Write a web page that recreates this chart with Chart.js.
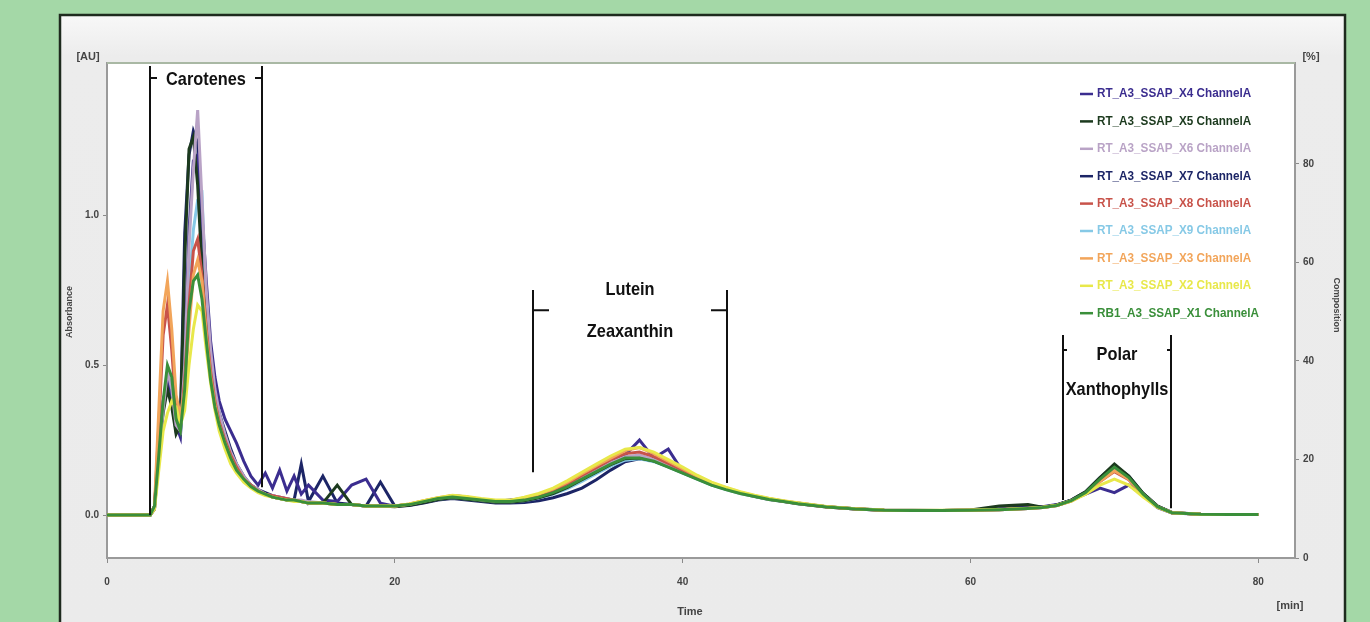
<!DOCTYPE html>
<html><head><meta charset="utf-8">
<script src="https://cdn.jsdelivr.net/npm/chart.js@4.4.1/dist/chart.umd.min.js"></script>
<style>html,body{margin:0;padding:0;background:#a4d8a7;overflow:hidden}#wrap{position:relative;width:1370px;height:622px}</style>
</head><body><div id="wrap"><canvas id="c" width="1370" height="622"></canvas></div>
<script>
// ---- data (time in minutes, absorbance in AU) ----
const times = [0,2,3.0,3.3,3.6,3.9,4.2,4.5,4.8,5.1,5.4,5.7,6.0,6.3,6.6,6.9,7.2,7.5,7.8,8.2,8.6,9.0,9.5,10,10.5,11,11.5,12,12.5,13,13.5,14,
  15,16,17,18,19,20,21,22,23,24,25,26,27,28,29,30,31,32,33,34,35,36,37,38,39,40,41,42,43,44,45,46,47,48,
  50,52,54,56,58,60,62,64,65,66,67,68,69,70,71,72,73,74,76,78,80];

const seriesLabels = [
  "RT_A3_SSAP_X4 ChannelA","RT_A3_SSAP_X5 ChannelA","RT_A3_SSAP_X6 ChannelA",
  "RT_A3_SSAP_X7 ChannelA","RT_A3_SSAP_X8 ChannelA","RT_A3_SSAP_X9 ChannelA",
  "RT_A3_SSAP_X3 ChannelA","RT_A3_SSAP_X2 ChannelA","RB1_A3_SSAP_X1 ChannelA"];

const s1 = [0,0,0,0.03,0.22,0.38,0.45,0.4,0.3,0.26,0.55,0.95,1.18,1.2,1.0,0.78,0.58,0.46,0.38,0.32,0.28,0.24,0.18,0.13,0.1,0.14,0.09,0.15,0.08,0.13,0.07,0.1,
  0.05,0.045,0.1,0.12,0.04,0.03,0.035,0.045,0.055,0.065,0.06,0.05,0.045,0.05,0.055,0.065,0.08,0.1,0.125,0.15,0.175,0.2,0.25,0.19,0.22,0.145,0.125,0.105,0.09,0.075,
  0.064,0.055,0.046,0.04,0.028,0.021,0.017,0.016,0.015,0.017,0.02,0.025,0.028,0.035,0.05,0.07,0.09,0.075,0.1,0.065,0.025,0.007,0.003,0.002,0.002];
const s2 = [0,0,0,0.02,0.2,0.34,0.42,0.36,0.27,0.3,0.85,1.22,1.26,1.1,0.82,0.62,0.5,0.4,0.33,0.26,0.2,0.16,0.12,0.1,0.08,0.07,0.06,0.055,0.05,0.05,0.045,0.04,
  0.04,0.1,0.035,0.03,0.03,0.028,0.033,0.042,0.052,0.058,0.053,0.048,0.043,0.043,0.048,0.058,0.072,0.092,0.118,0.143,0.168,0.188,0.19,0.18,0.162,0.142,0.122,0.102,0.087,0.074,
  0.063,0.053,0.046,0.039,0.028,0.021,0.016,0.015,0.015,0.017,0.03,0.035,0.026,0.034,0.05,0.078,0.125,0.17,0.13,0.072,0.03,0.008,0.003,0.002,0.002];
const s3 = [0,0,0,0.02,0.18,0.35,0.48,0.42,0.3,0.28,0.5,0.9,1.15,1.35,1.05,0.75,0.55,0.42,0.34,0.27,0.21,0.17,0.13,0.1,0.085,0.07,0.065,0.06,0.055,0.05,0.05,0.045,
  0.04,0.035,0.035,0.03,0.03,0.03,0.036,0.046,0.056,0.062,0.057,0.05,0.046,0.046,0.052,0.062,0.078,0.1,0.125,0.15,0.175,0.195,0.2,0.185,0.165,0.145,0.123,0.103,0.087,0.073,
  0.062,0.052,0.045,0.038,0.027,0.02,0.016,0.015,0.015,0.016,0.018,0.022,0.025,0.032,0.048,0.072,0.115,0.15,0.12,0.068,0.027,0.008,0.003,0.002,0.002];
const s4 = [0,0,0,0.03,0.24,0.36,0.44,0.38,0.28,0.32,0.94,1.2,1.28,1.24,0.95,0.66,0.5,0.4,0.34,0.28,0.22,0.17,0.13,0.1,0.085,0.075,0.065,0.06,0.055,0.05,0.17,0.045,
  0.13,0.04,0.035,0.03,0.11,0.03,0.032,0.04,0.05,0.055,0.05,0.045,0.04,0.04,0.042,0.048,0.058,0.072,0.09,0.118,0.15,0.178,0.188,0.182,0.165,0.145,0.124,0.104,0.088,0.074,
  0.063,0.053,0.046,0.039,0.028,0.02,0.016,0.015,0.015,0.016,0.02,0.03,0.026,0.033,0.05,0.078,0.125,0.165,0.13,0.072,0.03,0.009,0.003,0.002,0.002];
const s5 = [0,0,0,0.02,0.3,0.6,0.7,0.55,0.35,0.3,0.45,0.7,0.88,0.92,0.8,0.62,0.48,0.38,0.31,0.25,0.2,0.16,0.12,0.1,0.08,0.07,0.065,0.06,0.055,0.05,0.045,0.04,
  0.04,0.035,0.035,0.03,0.03,0.03,0.036,0.047,0.057,0.063,0.058,0.052,0.047,0.047,0.055,0.066,0.082,0.105,0.132,0.158,0.185,0.205,0.21,0.195,0.172,0.15,0.127,0.106,0.09,0.075,
  0.064,0.054,0.046,0.039,0.027,0.02,0.016,0.015,0.015,0.016,0.018,0.022,0.025,0.032,0.047,0.072,0.112,0.145,0.118,0.067,0.027,0.008,0.003,0.002,0.002];
const s6 = [0,0,0,0.02,0.2,0.35,0.45,0.4,0.3,0.27,0.45,0.75,0.95,1.05,1.07,0.7,0.52,0.4,0.33,0.26,0.2,0.16,0.12,0.1,0.08,0.07,0.06,0.055,0.05,0.05,0.045,0.04,
  0.04,0.035,0.035,0.03,0.03,0.03,0.035,0.044,0.053,0.058,0.054,0.049,0.044,0.044,0.048,0.057,0.07,0.088,0.112,0.138,0.163,0.183,0.188,0.178,0.16,0.14,0.12,0.1,0.085,0.072,
  0.062,0.052,0.045,0.038,0.027,0.02,0.016,0.015,0.015,0.016,0.018,0.022,0.025,0.032,0.048,0.075,0.12,0.158,0.123,0.069,0.027,0.008,0.003,0.002,0.002];
const s7 = [0,0,0,0.03,0.35,0.68,0.78,0.62,0.4,0.33,0.42,0.62,0.8,0.85,0.78,0.6,0.46,0.37,0.3,0.24,0.19,0.15,0.12,0.095,0.08,0.07,0.06,0.055,0.05,0.05,0.045,0.04,
  0.04,0.035,0.035,0.03,0.03,0.03,0.037,0.048,0.058,0.065,0.06,0.053,0.048,0.048,0.058,0.07,0.087,0.11,0.138,0.165,0.19,0.215,0.225,0.205,0.18,0.155,0.13,0.108,0.091,0.076,
  0.065,0.055,0.047,0.04,0.028,0.021,0.016,0.015,0.015,0.016,0.018,0.022,0.025,0.032,0.047,0.072,0.112,0.148,0.12,0.068,0.027,0.008,0.003,0.002,0.002];
const s8 = [0,0,0,0.02,0.15,0.28,0.34,0.38,0.36,0.3,0.35,0.5,0.62,0.7,0.68,0.55,0.44,0.35,0.28,0.22,0.17,0.14,0.11,0.09,0.075,0.065,0.06,0.055,0.05,0.045,0.045,0.04,
  0.04,0.035,0.035,0.03,0.03,0.03,0.037,0.048,0.058,0.066,0.062,0.055,0.05,0.05,0.06,0.072,0.09,0.115,0.143,0.17,0.197,0.22,0.225,0.21,0.185,0.16,0.133,0.11,0.093,0.078,
  0.066,0.056,0.048,0.041,0.029,0.021,0.017,0.016,0.016,0.017,0.019,0.023,0.026,0.033,0.047,0.07,0.1,0.12,0.1,0.06,0.026,0.008,0.003,0.002,0.002];
const s9 = [0,0,0,0.03,0.2,0.38,0.5,0.46,0.32,0.28,0.42,0.68,0.78,0.8,0.72,0.58,0.45,0.36,0.3,0.24,0.19,0.15,0.12,0.095,0.08,0.07,0.06,0.055,0.05,0.05,0.045,0.04,
  0.04,0.035,0.035,0.03,0.03,0.03,0.035,0.045,0.055,0.06,0.055,0.05,0.045,0.045,0.05,0.06,0.075,0.095,0.12,0.145,0.17,0.19,0.19,0.18,0.16,0.14,0.12,0.1,0.085,0.072,
  0.062,0.052,0.045,0.038,0.027,0.02,0.016,0.015,0.015,0.016,0.018,0.022,0.025,0.032,0.048,0.075,0.12,0.16,0.125,0.07,0.028,0.008,0.003,0.002,0.002];

const seriesValues = [s1,s2,s3,s4,s5,s6,s7,s8,s9];
const xTickValues = [0,20,40,60,80];
const leftTickValues = [0,0.5,1.0];
const rightTickValues = [0,20,40,60,80];

// ---- styles ----
const seriesColors = ['#3b2d8f','#1c3a1e','#b9a3c6','#1c2566','#c8534a','#86c9e6','#f2a55a','#e8e84a','#3a8f3a'];
// drawing order (lower = drawn on top)
const drawOrder = [6,5,4,8,3,7,2,1,0];

// region annotations (data coordinates: minutes / AU)
const regionNotes = [
  {text:['Carotenes'], t0:3.0, t1:10.8, top:1.497, bot0:0, bot1:0.093, tickY:1.457, tickLen:7, textY:[1.45]},
  {text:['Lutein','Zeaxanthin'], t0:29.6, t1:43.1, top:0.75, bot0:0.143, bot1:0.107, tickY:0.683, tickLen:16, textY:[0.75,0.61]},
  {text:['Polar','Xanthophylls'], t0:66.4, t1:73.9, top:0.6, bot0:0.05, bot1:0.023, tickY:0.55, tickLen:4, textY:[0.533,0.417]}
];

const SANS = '"Liberation Sans", Arial, sans-serif';

const bgPlugin = {
  id:'bg',
  beforeDraw(chart){
    const ctx = chart.ctx, a = chart.chartArea;
    ctx.save();
    ctx.fillStyle = '#a4d8a7';
    ctx.fillRect(0,0,1370,622);
    const g = ctx.createLinearGradient(0,14,0,622);
    g.addColorStop(0,'#f8f8f8'); g.addColorStop(0.07,'#ececec'); g.addColorStop(1,'#ebebeb');
    ctx.fillStyle = g;
    ctx.fillRect(60,15,1285,620);
    ctx.strokeStyle = '#1e2a1e'; ctx.lineWidth = 2.5;
    ctx.strokeRect(60,15,1285,640);
    ctx.fillStyle = '#ffffff';
    ctx.fillRect(a.left,a.top,a.right-a.left,a.bottom-a.top);
    ctx.restore();
  },
  afterDraw(chart){
    const ctx = chart.ctx, a = chart.chartArea;
    const xs = chart.scales.x, ys = chart.scales.y;
    ctx.save();
    ctx.strokeStyle = '#a9b8a4'; ctx.lineWidth = 2;
    ctx.beginPath(); ctx.moveTo(a.left, a.top); ctx.lineTo(a.right, a.top); ctx.stroke();
    // region brackets
    ctx.strokeStyle = '#111'; ctx.fillStyle = '#111'; ctx.lineWidth = 2;
    regionNotes.forEach(r => {
      const x0 = Math.round(xs.getPixelForValue(r.t0)), x1 = Math.round(xs.getPixelForValue(r.t1));
      const yt = ys.getPixelForValue(r.top), ty = ys.getPixelForValue(r.tickY);
      ctx.beginPath();
      ctx.moveTo(x0, yt); ctx.lineTo(x0, ys.getPixelForValue(r.bot0));
      ctx.moveTo(x1, yt); ctx.lineTo(x1, ys.getPixelForValue(r.bot1));
      ctx.moveTo(x0, ty); ctx.lineTo(x0 + r.tickLen, ty);
      ctx.moveTo(x1, ty); ctx.lineTo(x1 - r.tickLen, ty);
      ctx.stroke();
      ctx.font = 'bold 19px ' + SANS;
      ctx.textAlign = 'center'; ctx.textBaseline = 'middle';
      r.text.forEach((t,i) => {
        ctx.save();
        ctx.translate((x0+x1)/2, ys.getPixelForValue(r.textY[i]));
        ctx.scale(0.86, 1);
        ctx.fillText(t, 0, 0);
        ctx.restore();
      });
    });
    // legend
    ctx.font = 'bold 12px ' + SANS;
    let maxW = 0;
    seriesLabels.forEach(l => maxW = Math.max(maxW, ctx.measureText(l).width));
    const sx = 162 / maxW;
    ctx.textAlign = 'left'; ctx.textBaseline = 'middle';
    seriesLabels.forEach((l,i) => {
      const y = 94 + i*27.4;
      ctx.strokeStyle = seriesColors[i]; ctx.lineWidth = 2.5;
      ctx.beginPath(); ctx.moveTo(1080, y); ctx.lineTo(1093, y); ctx.stroke();
      ctx.fillStyle = seriesColors[i];
      ctx.save(); ctx.translate(1097, y); ctx.scale(sx, 1); ctx.fillText(l, 0, 0); ctx.restore();
    });
    // unit labels and axis titles
    ctx.fillStyle = '#444';
    ctx.font = 'bold 11px ' + SANS;
    ctx.textAlign = 'center';
    ctx.fillText('[AU]', 88, 57);
    ctx.fillText('[%]', 1311, 57);
    ctx.fillText('[min]', 1290, 606);
    ctx.fillText('Time', 690, 612);
    ctx.font = 'bold 9px ' + SANS;
    ctx.save(); ctx.translate(70, 312); ctx.rotate(-Math.PI/2); ctx.fillText('Absorbance', 0, 0); ctx.restore();
    ctx.save(); ctx.translate(1336, 305); ctx.rotate(Math.PI/2); ctx.fillText('Composition', 0, 0); ctx.restore();
    ctx.restore();
  }
};

const datasets = seriesValues.map((vals,i) => ({
  label: seriesLabels[i],
  data: vals.map((v,k) => ({x: times[k], y: v})),
  borderColor: seriesColors[i],
  backgroundColor: seriesColors[i],
  borderWidth: 3,
  pointRadius: 0,
  tension: 0,
  fill: false,
  order: drawOrder[i],
  yAxisID: 'y'
}));

const tickFont = {family: SANS, size: 10, weight: 'bold'};

new Chart(document.getElementById('c'), {
  type: 'line',
  data: {datasets},
  options: {
    responsive: false, animation: false, devicePixelRatio: 1,
    layout: {padding: {left: 60, right: 0, top: 63, bottom: 0}},
    plugins: {legend: {display: false}, tooltip: {enabled: false}},
    scales: {
      x: {
        type: 'linear', min: 0, max: 82.55, position: 'bottom',
        grid: {display: true, drawOnChartArea: false, drawTicks: true, tickLength: 5, color: '#8a8a8a'},
        border: {display: true, color: '#9a9a9a', width: 2},
        ticks: {font: tickFont, color: '#444', padding: 13, maxRotation: 0, callback: v => String(v)},
        afterBuildTicks: s => { s.ticks = xTickValues.map(v => ({value: v})); },
        afterFit: s => { s.height = 64; }
      },
      y: {
        type: 'linear', min: -0.143, max: 1.507, position: 'left',
        grid: {display: true, drawOnChartArea: false, drawTicks: true, tickLength: 4, color: '#8a8a8a'},
        border: {display: true, color: '#9a9a9a', width: 2},
        ticks: {font: tickFont, color: '#444', padding: 4, callback: v => Number(v).toFixed(1)},
        afterBuildTicks: s => { s.ticks = leftTickValues.map(v => ({value: v})); },
        afterFit: s => { s.width = 47; }
      },
      y2: {
        type: 'linear', min: 0, max: 100.5, position: 'right',
        grid: {display: true, drawOnChartArea: false, drawTicks: true, tickLength: 4, color: '#8a8a8a'},
        border: {display: true, color: '#9a9a9a', width: 2},
        ticks: {font: tickFont, color: '#444', padding: 4, callback: v => String(v)},
        afterBuildTicks: s => { s.ticks = rightTickValues.map(v => ({value: v})); },
        afterFit: s => { s.width = 75; }
      }
    }
  },
  plugins: [bgPlugin]
});
</script></body></html>
